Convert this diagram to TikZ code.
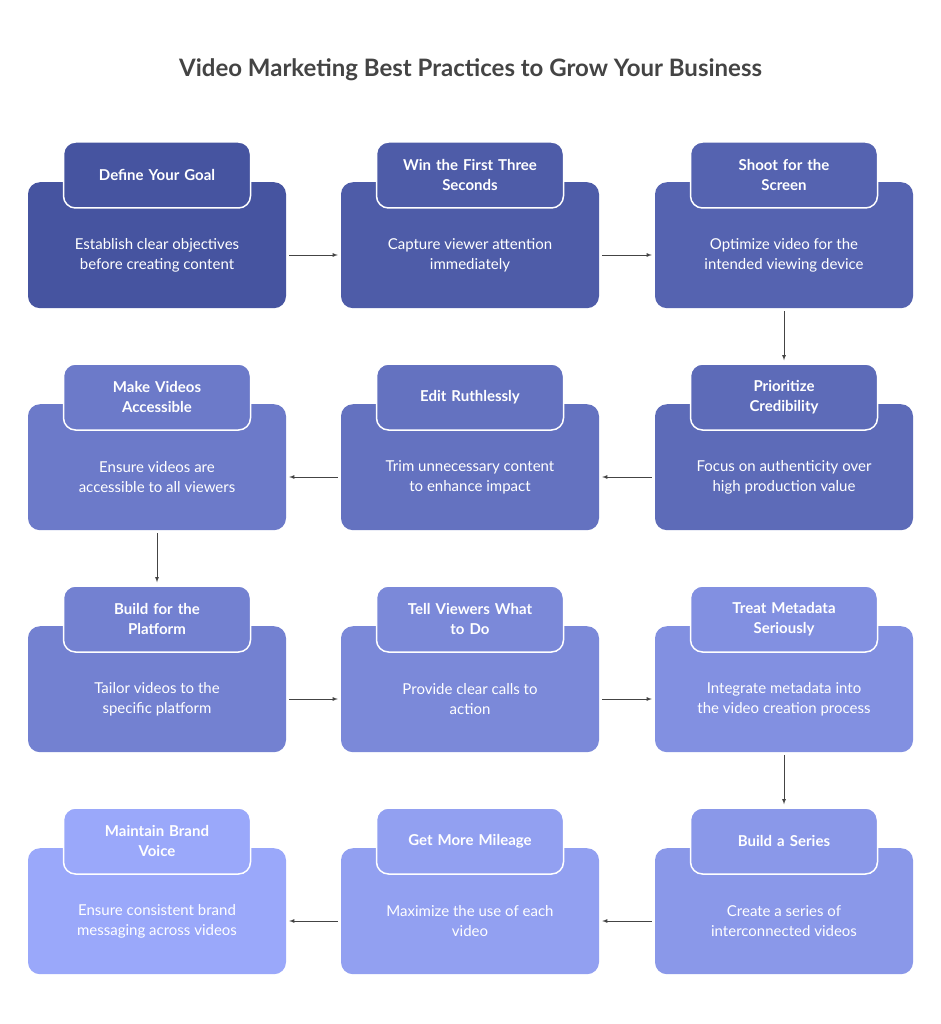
\documentclass[tikz,border=0pt]{standalone}
\usepackage{fontspec}
\setmainfont{Lato}
\usepackage{tikz}
\usetikzlibrary{calc}

\definecolor{cardA}{HTML}{4654A0}
\definecolor{cardB}{HTML}{9AA8FA}
\definecolor{linegray}{HTML}{444444}

\tikzset{
  cardbody/.style={draw=none, rounded corners=12pt, minimum width=258pt, minimum height=126pt},
  cardtab/.style={draw=white, line width=1.5pt, rounded corners=12pt, minimum width=187pt, minimum height=66pt,
    text width=175pt, align=center, text=white, font=\fontsize{15}{20}\selectfont\bfseries},
  cardtext/.style={text=white, align=center, font=\fontsize{15}{20}\selectfont},
  flow/.style={-latex, draw=linegray, line width=0.8pt, shorten <=3pt, shorten >=3pt}
}

% #1 name, #2 x, #3 y (top of body), #4 colour step, #5 title, #6 text
\newcommand{\stepcard}[6]{
  \pgfmathtruncatemacro{\mixval}{#4*100/11}
  \colorlet{cardfill}{cardB!\mixval!cardA}
  \node[cardbody, fill=cardfill, anchor=north] (b#1) at (#2,#3) {};
  \node[cardtext] (t#1) at (#2,#3+73) {#6};
  \node[cardtab, fill=cardfill] (h#1) at (#2,#3-7) {#5};
}

\begin{document}
\begin{tikzpicture}[x=1pt,y=-1pt]
    \useasboundingbox[fill=white] (0,0) rectangle (941,1024);

    \node[font=\fontsize{24}{28}\selectfont\bfseries, text=linegray] (title) at (470.5,70) {Video Marketing Best Practices to Grow Your Business};

    \stepcard{1}{157}{182}{0}{Define Your Goal}{Establish clear objectives\\before creating content}
    \stepcard{2}{470}{182}{1}{Win the First Three\\Seconds}{Capture viewer attention\\immediately}
    \stepcard{3}{784}{182}{2}{Shoot for the\\Screen}{Optimize video for the\\intended viewing device}
    \stepcard{4}{784}{404}{3}{Prioritize\\Credibility}{Focus on authenticity over\\high production value}
    \stepcard{5}{470}{404}{4}{Edit Ruthlessly}{Trim unnecessary content\\to enhance impact}
    \stepcard{6}{157}{404}{5}{Make Videos\\Accessible}{Ensure videos are\\accessible to all viewers}
    \stepcard{7}{157}{626}{6}{Build for the\\Platform}{Tailor videos to the\\specific platform}
    \stepcard{8}{470}{626}{7}{Tell Viewers What\\to Do}{Provide clear calls to\\action}
    \stepcard{9}{784}{626}{8}{Treat Metadata\\Seriously}{Integrate metadata into\\the video creation process}
    \stepcard{10}{784}{848}{9}{Build a Series}{Create a series of\\interconnected videos}
    \stepcard{11}{470}{848}{10}{Get More Mileage}{Maximize the use of each\\video}
    \stepcard{12}{157}{848}{11}{Maintain Brand\\Voice}{Ensure consistent brand\\messaging across videos}

    % row to row
    \draw[flow] (b1.east |- t1) -- (b2.west |- t2);
    \draw[flow] (b2.east |- t2) -- (b3.west |- t3);
    \draw[flow] (b3.south) -- (h4.north);
    \draw[flow] (b4.west |- t4) -- (b5.east |- t5);
    \draw[flow] (b5.west |- t5) -- (b6.east |- t6);
    \draw[flow] (b6.south) -- (h7.north);
    \draw[flow] (b7.east |- t7) -- (b8.west |- t8);
    \draw[flow] (b8.east |- t8) -- (b9.west |- t9);
    \draw[flow] (b9.south) -- (h10.north);
    \draw[flow] (b10.west |- t10) -- (b11.east |- t11);
    \draw[flow] (b11.west |- t11) -- (b12.east |- t12);
\end{tikzpicture}
\end{document}
